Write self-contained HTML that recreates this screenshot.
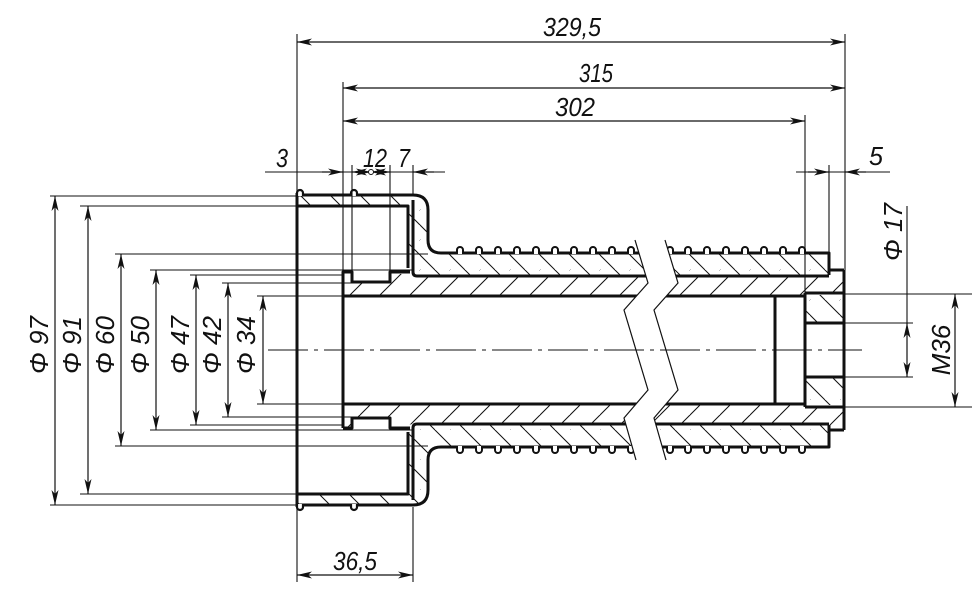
<!DOCTYPE html>
<html><head><meta charset="utf-8"><style>
html,body{margin:0;padding:0;background:#fff}
svg{display:block}
text{font-family:"Liberation Sans",sans-serif;font-style:italic;font-size:26px;fill:#111}
</style></head><body>
<svg width="973" height="602" viewBox="0 0 973 602" xmlns="http://www.w3.org/2000/svg">
<defs>
<marker id="a" viewBox="0 -4 15 8" refX="15" refY="0" markerWidth="15" markerHeight="8" markerUnits="userSpaceOnUse" orient="auto-start-reverse"><path d="M0,-3.5 L15,0 L0,3.5 L4,0z" fill="#111"/></marker>
<pattern id="hb" patternUnits="userSpaceOnUse" width="30" height="30"><path d="M-15,0 L15,30 M0,-15 L30,15 M15,-15 L45,15 M-15,15 L15,45" stroke="#111" stroke-width="1"/></pattern>
<pattern id="hf" patternUnits="userSpaceOnUse" width="30" height="30"><path d="M-15,30 L15,0 M0,45 L30,15 M15,30 L45,0 M-15,15 L15,-15" stroke="#111" stroke-width="1"/></pattern>
</defs>

<g>
<polygon points="297,195 413,195 423,199 428,210 428,240 432,249 441,253 829,253 829,275 413,275 408,268 408,206 297,206" fill="url(#hb)"/>
<polygon points="343,272 352,272 352,282 390,282 390,272 413,276 829,276 829,270 844,270 844,293 805,293 805,296 343,296" fill="url(#hf)"/>
<polygon points="805,295 844,295 844,323 805,323" fill="url(#hb)"/>
</g>
<g transform="translate(0,700) scale(1,-1)">
<polygon points="297,195 413,195 423,199 428,210 428,240 432,249 441,253 829,253 829,275 413,275 408,268 408,206 297,206" fill="url(#hf)"/>
<polygon points="343,272 352,272 352,282 390,282 390,272 413,276 829,276 829,270 844,270 844,293 805,293 805,296 343,296" fill="url(#hb)"/>
<polygon points="805,295 844,295 844,323 805,323" fill="url(#hf)"/>
</g>

<g fill="none" stroke="#111" stroke-width="3" stroke-linejoin="round">
<path d="M297,193 V507"/>
<g>
<path d="M297,195 H413 Q428,195 428,210 V240 Q428,253 441,253 H829 V275"/>
<path d="M297,206 H408 V268"/>
<path d="M413,200 V272 Q413,276 417,276 H829"/>
<path d="M343,428 V272 H352 V282 H390 V272 H410"/>
<path d="M343,296 H805"/>
<path d="M829,270 H844"/>
<path d="M775,295 V405"/>
<path d="M805,293 H844 M805,323 H844"/>
</g>
<g transform="translate(0,700) scale(1,-1)">
<path d="M297,195 H413 Q428,195 428,210 V240 Q428,253 441,253 H829 V275"/>
<path d="M297,206 H408 V268"/>
<path d="M413,200 V272 Q413,276 417,276 H829"/>
<path d="M343,272 H352 V282 H390 V272 H410"/>
<path d="M343,296 H805"/>
<path d="M829,270 H844"/>
<path d="M805,293 H844 M805,323 H844"/>
</g>
<path d="M805,293 V407 M844,270 V430"/>
</g>
<g fill="#fff" stroke="#111" stroke-width="2.2">
<g transform="translate(300,196)"><path d="M-3,0 v-3 a3,3 0 0 1 6,0 v3"/></g>
<g transform="translate(354,196)"><path d="M-3,0 v-3 a3,3 0 0 1 6,0 v3"/></g>
<g transform="translate(300,504) scale(1,-1)"><path d="M-3,0 v-3 a3,3 0 0 1 6,0 v3"/></g>
<g transform="translate(354,504) scale(1,-1)"><path d="M-3,0 v-3 a3,3 0 0 1 6,0 v3"/></g>
</g>
<g fill="#fff" stroke="#111" stroke-width="2">
<path d="M457,254 v-4 a3,3 0 0 1 6,0 v4 M476,254 v-4 a3,3 0 0 1 6,0 v4 M495,254 v-4 a3,3 0 0 1 6,0 v4 M514,254 v-4 a3,3 0 0 1 6,0 v4 M533,254 v-4 a3,3 0 0 1 6,0 v4 M552,254 v-4 a3,3 0 0 1 6,0 v4 M571,254 v-4 a3,3 0 0 1 6,0 v4 M590,254 v-4 a3,3 0 0 1 6,0 v4 M609,254 v-4 a3,3 0 0 1 6,0 v4 M628,254 v-4 a3,3 0 0 1 6,0 v4 M667,254 v-4 a3,3 0 0 1 6,0 v4 M685,254 v-4 a3,3 0 0 1 6,0 v4 M704,254 v-4 a3,3 0 0 1 6,0 v4 M723,254 v-4 a3,3 0 0 1 6,0 v4 M742,254 v-4 a3,3 0 0 1 6,0 v4 M761,254 v-4 a3,3 0 0 1 6,0 v4 M780,254 v-4 a3,3 0 0 1 6,0 v4 M799,254 v-4 a3,3 0 0 1 6,0 v4"/>
</g>
<g fill="#fff" stroke="#111" stroke-width="2" transform="translate(0,700) scale(1,-1)">
<path d="M457,254 v-4 a3,3 0 0 1 6,0 v4 M476,254 v-4 a3,3 0 0 1 6,0 v4 M495,254 v-4 a3,3 0 0 1 6,0 v4 M514,254 v-4 a3,3 0 0 1 6,0 v4 M533,254 v-4 a3,3 0 0 1 6,0 v4 M552,254 v-4 a3,3 0 0 1 6,0 v4 M571,254 v-4 a3,3 0 0 1 6,0 v4 M590,254 v-4 a3,3 0 0 1 6,0 v4 M609,254 v-4 a3,3 0 0 1 6,0 v4 M628,254 v-4 a3,3 0 0 1 6,0 v4 M667,254 v-4 a3,3 0 0 1 6,0 v4 M685,254 v-4 a3,3 0 0 1 6,0 v4 M704,254 v-4 a3,3 0 0 1 6,0 v4 M723,254 v-4 a3,3 0 0 1 6,0 v4 M742,254 v-4 a3,3 0 0 1 6,0 v4 M761,254 v-4 a3,3 0 0 1 6,0 v4 M780,254 v-4 a3,3 0 0 1 6,0 v4 M799,254 v-4 a3,3 0 0 1 6,0 v4"/>
</g>
<polygon points="635,240 648,283 624,310 648,390 624,418 636,460 666,460 654,418 678,390 654,310 678,283 665,240" fill="#fff"/>
<polyline points="635,240 648,283 624,310 648,390 624,418 636,460" fill="none" stroke="#111" stroke-width="1.2"/>
<polyline points="665,240 678,283 654,310 678,390 654,418 666,460" fill="none" stroke="#111" stroke-width="1.2"/>

<line x1="268" y1="350" x2="862" y2="350" stroke="#111" stroke-width="1" stroke-dasharray="40,6,4,6"/>

<g stroke="#111" stroke-width="1.1" fill="none">
<path d="M50,196 H297 M80,206 H297 M115,254 H428 M150,270 H413 M190,275 H343 M222,283 H352 M257,296 H343"/>
<path d="M50,505 H297 M80,494 H297 M115,446 H428 M150,430 H413 M190,425 H343 M222,417 H352 M257,404 H343"/>
<path d="M297,34 V193 M343,82 V272 M845,34 V270 M805,115 V293 M829,165 V270 M352,165 V272 M390,165 V272 M413,165 V195"/>
<path d="M297,507 V582 M413,507 V582"/>
<path d="M844,294 H972 M844,407 H972 M844,323 H913 M844,377 H913"/>
<path d="M907,206 V323"/>
<path d="M265,172 H445 M796,172 H890"/>
</g>
<g stroke="#111" stroke-width="1.2" marker-start="url(#a)" marker-end="url(#a)" fill="none">
<line x1="55" y1="196" x2="55" y2="505"/>
<line x1="88" y1="206" x2="88" y2="494"/>
<line x1="121" y1="254" x2="121" y2="446"/>
<line x1="156" y1="270" x2="156" y2="430"/>
<line x1="196" y1="275" x2="196" y2="425"/>
<line x1="228" y1="283" x2="228" y2="417"/>
<line x1="263" y1="296" x2="263" y2="404"/>
<line x1="297" y1="42" x2="845" y2="42"/>
<line x1="343" y1="88" x2="845" y2="88"/>
<line x1="343" y1="121" x2="805" y2="121"/>
<line x1="297" y1="575" x2="413" y2="575"/>
<line x1="955" y1="294" x2="955" y2="407"/>
<line x1="907" y1="323" x2="907" y2="377"/>
<line x1="352" y1="172" x2="371" y2="172"/>
<line x1="390" y1="172" x2="371" y2="172"/>
</g>
<g stroke="#111" stroke-width="1.2" marker-end="url(#a)">
<line x1="322" y1="172" x2="343" y2="172"/>
<line x1="434" y1="172" x2="413" y2="172"/>
<line x1="808" y1="172" x2="829" y2="172"/>
<line x1="866" y1="172" x2="845" y2="172"/>
</g>
<circle cx="371" cy="172" r="2.5" fill="#fff" stroke="#111"/>

<text x="543" y="36" textLength="58" lengthAdjust="spacingAndGlyphs">329,5</text>
<text x="579" y="82" textLength="34" lengthAdjust="spacingAndGlyphs">315</text>
<text x="555" y="116" textLength="40" lengthAdjust="spacingAndGlyphs">302</text>
<text x="276" y="167" textLength="12" lengthAdjust="spacingAndGlyphs">3</text>
<text x="363" y="167" textLength="24" lengthAdjust="spacingAndGlyphs">12</text>
<text x="398" y="167" textLength="12" lengthAdjust="spacingAndGlyphs">7</text>
<text x="869" y="165" textLength="14" lengthAdjust="spacingAndGlyphs">5</text>
<text x="333" y="570" textLength="44" lengthAdjust="spacingAndGlyphs">36,5</text>
<g text-anchor="middle">
<text transform="translate(48,345) rotate(-90)">Φ 97</text>
<text transform="translate(81,345) rotate(-90)">Φ 91</text>
<text transform="translate(114,345) rotate(-90)">Φ 60</text>
<text transform="translate(149,345) rotate(-90)">Φ 50</text>
<text transform="translate(189,345) rotate(-90)">Φ 47</text>
<text transform="translate(221,345) rotate(-90)">Φ 42</text>
<text transform="translate(255,345) rotate(-90)">Φ 34</text>
<text transform="translate(902,232) rotate(-90)">Φ 17</text>
<text transform="translate(950,350) rotate(-90)">M36</text>
</g>
</svg>
</body></html>
